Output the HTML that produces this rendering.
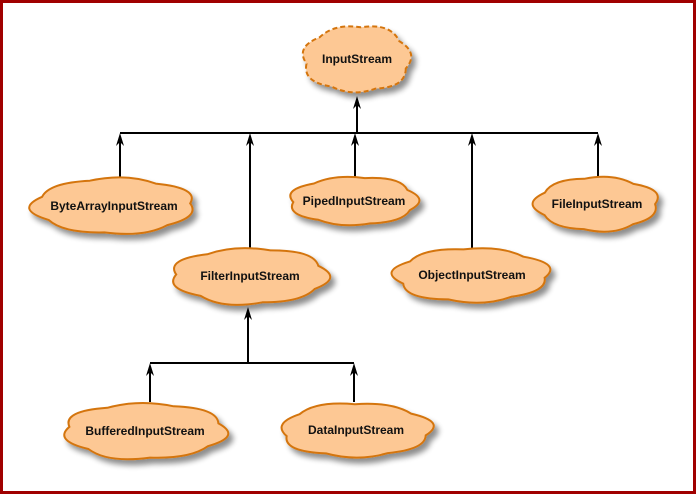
<!DOCTYPE html>
<html><head><meta charset="utf-8"><style>
html,body{margin:0;padding:0;background:#fff}
#w{position:relative;width:690px;height:488px;border:3px solid #a00000;background:#fff}
svg{position:absolute;left:-3px;top:-3px}
text{font-family:"Liberation Sans",Arial,sans-serif;font-weight:bold;font-size:12px;fill:#111}
</style></head><body><div id="w">
<svg id="s" width="696" height="494" viewBox="0 0 696 494" xmlns="http://www.w3.org/2000/svg">
<defs>
<filter id="sh" x="-20%" y="-20%" width="150%" height="160%">
<feGaussianBlur in="SourceAlpha" stdDeviation="3"/>
<feOffset dx="4" dy="5" result="b"/>
<feComponentTransfer><feFuncA type="linear" slope="0.45"/></feComponentTransfer>
<feMerge><feMergeNode/><feMergeNode in="SourceGraphic"/></feMerge>
</filter>
</defs>
<g stroke="#000" stroke-width="2" fill="none">
<line x1="120" y1="133" x2="598" y2="133"/>
<line x1="357" y1="133" x2="357" y2="100"/>
<line x1="120" y1="178" x2="120" y2="137"/>
<line x1="250" y1="248" x2="250" y2="137"/>
<line x1="355" y1="178" x2="355" y2="137"/>
<line x1="472" y1="248" x2="472" y2="137"/>
<line x1="598" y1="178" x2="598" y2="137"/>
<line x1="150" y1="363" x2="354" y2="363"/>
<line x1="248" y1="363" x2="248" y2="311"/>
<line x1="150" y1="402" x2="150" y2="367"/>
<line x1="354" y1="402" x2="354" y2="367"/>
</g>
<g id="arr" fill="#000"></g>
<g id="clouds"></g>
</svg>
</div>
<script>
var ns="http://www.w3.org/2000/svg";
var ag=document.getElementById('arr');
[[357,96],[120,133],[250,133],[355,133],[472,133],[598,133],[248,307],[150,363],[354,363]].forEach(function(a){
 var x=a[0],y=a[1],p=document.createElementNS(ns,'path');
 p.setAttribute('d','M'+x+','+y+' L'+(x+4)+','+(y+13)+' L'+x+','+(y+9)+' L'+(x-4)+','+(y+13)+'Z');
 ag.appendChild(p);
});
var nodes=[
["InputStream",357,59,58,37,true],
["ByteArrayInputStream",114,206,87,31],
["PipedInputStream",354,201,69,27],
["FileInputStream",597,204,66,30],
["FilterInputStream",250,276,84,31],
["ObjectInputStream",472,275,83,30],
["BufferedInputStream",145,431,87,31],
["DataInputStream",356,430,81,30]];
var g=document.getElementById('clouds');
nodes.forEach(function(n,k){
 var cx=n[1],cy=n[2],rx=n[3]*0.88,ry=n[4]*0.86,N=7,d="";
 var off=k*0.5+0.3;
 for(var i=0;i<=N;i++){
  var a=off+i*2*Math.PI/N;
  var x=cx+rx*Math.cos(a),y=cy+ry*Math.sin(a);
  if(i==0){d+="M"+x.toFixed(1)+","+y.toFixed(1);continue;}
  var m=off+(i-0.5)*2*Math.PI/N,f=1.26+0.06*Math.sin(i*2.3+k);
  var qx=cx+rx*f*Math.cos(m),qy=cy+ry*f*Math.sin(m);
  d+=" Q"+qx.toFixed(1)+","+qy.toFixed(1)+" "+x.toFixed(1)+","+y.toFixed(1);
 }
 d+="Z";
 var p=document.createElementNS(ns,'path');
 p.setAttribute('d',d);p.setAttribute('fill','#fdc894');p.setAttribute('stroke','#d4740f');
 p.setAttribute('stroke-width','2');p.setAttribute('filter','url(#sh)');
 if(n[5])p.setAttribute('stroke-dasharray','5,3');
 g.appendChild(p);
 var t=document.createElementNS(ns,'text');
 t.setAttribute('x',cx);t.setAttribute('y',cy+4);t.setAttribute('text-anchor','middle');
 t.textContent=n[0];g.appendChild(t);
});
</script>
</body></html>
